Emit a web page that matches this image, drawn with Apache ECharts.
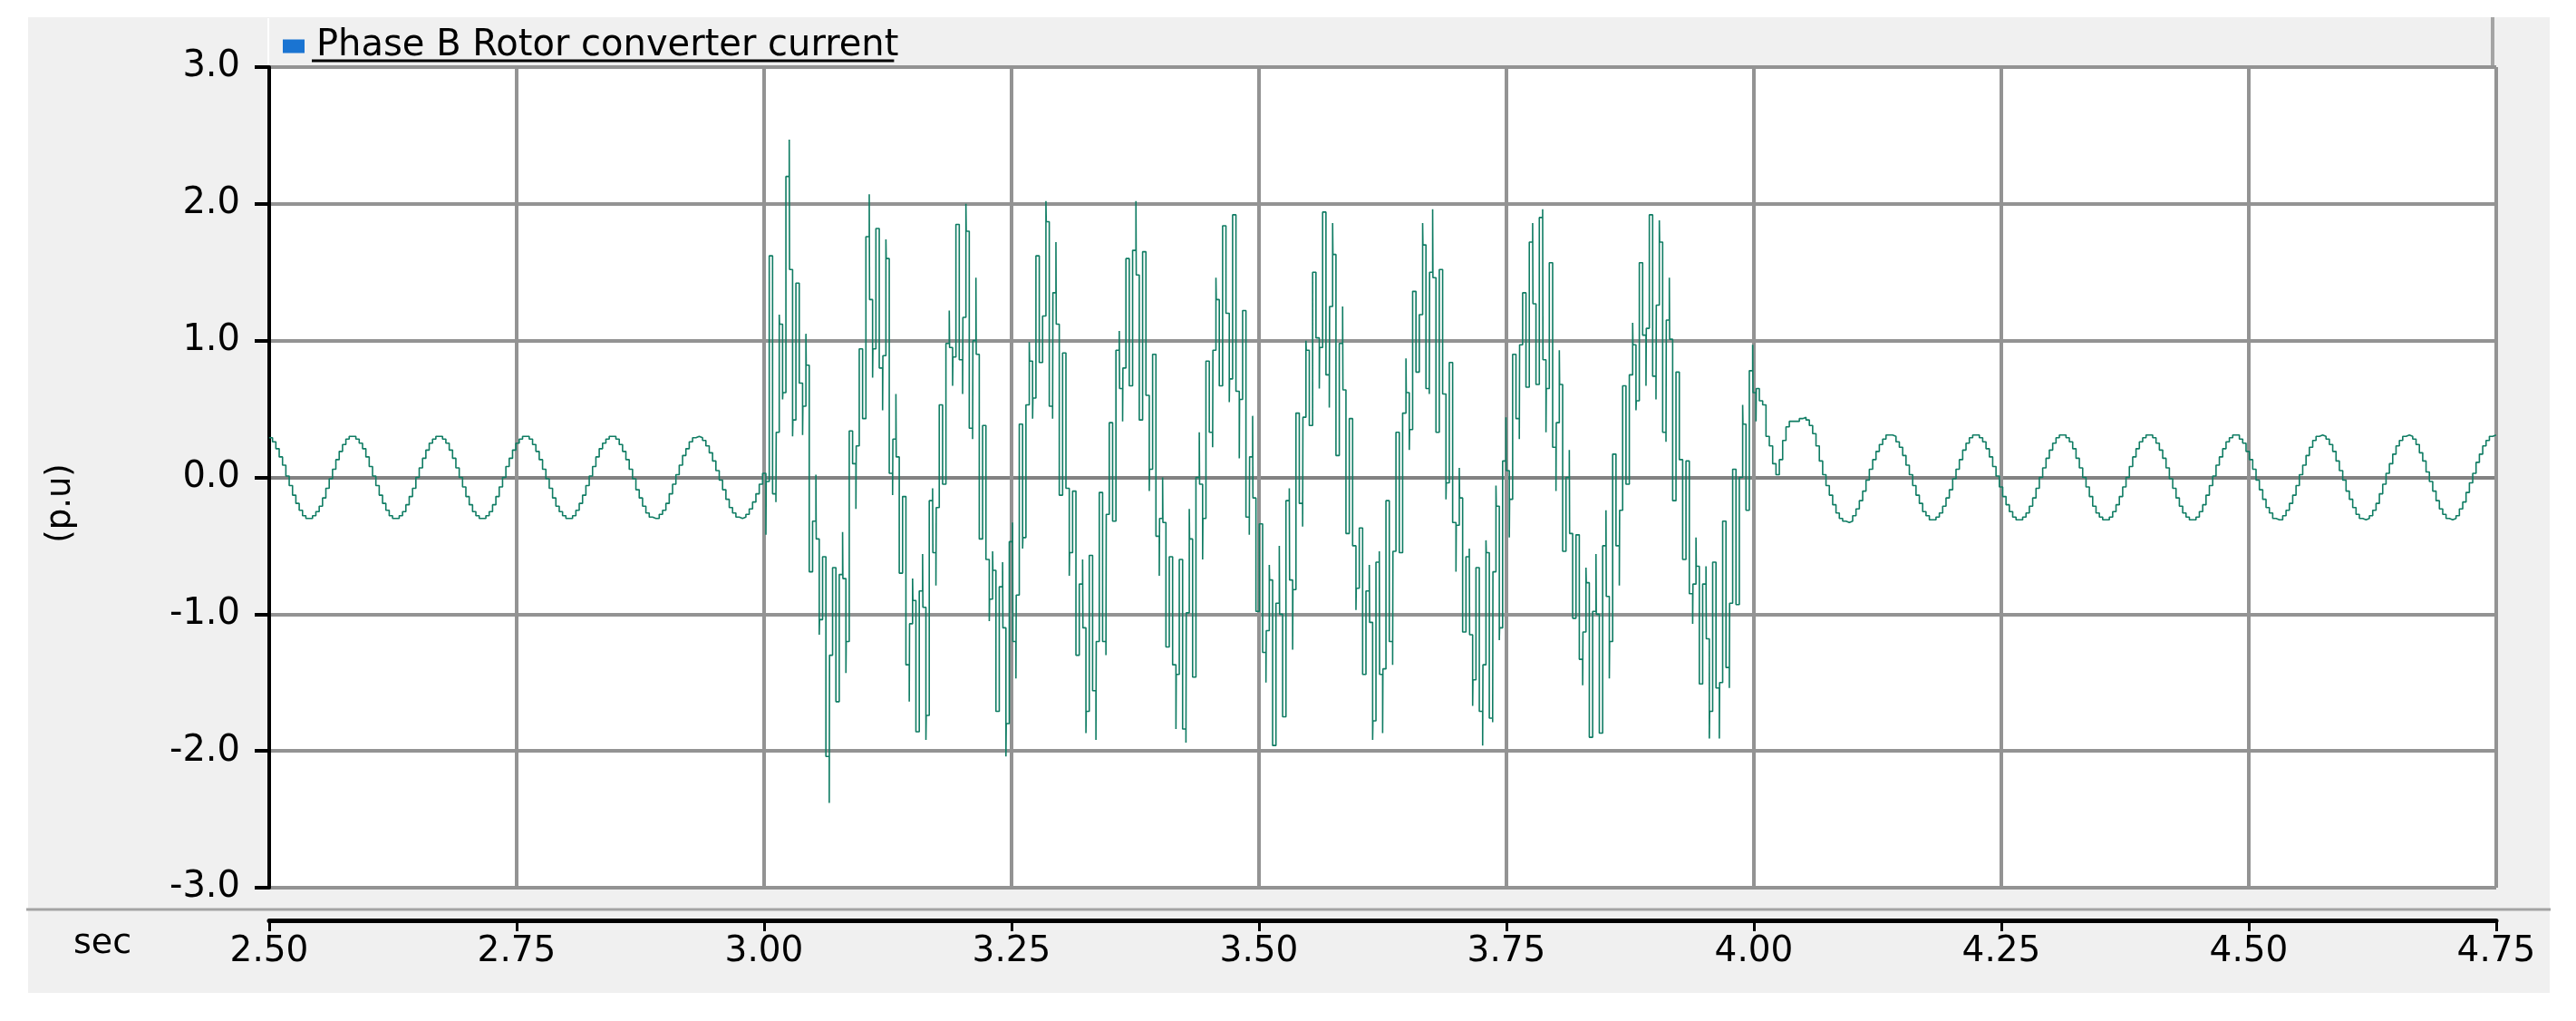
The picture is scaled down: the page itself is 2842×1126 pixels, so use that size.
<!DOCTYPE html>
<html>
<head>
<meta charset="utf-8">
<style>
  html, body { margin: 0; padding: 0; background: #fff; }
  #chart { width: 2842px; height: 1126px; }
</style>
<script src="https://cdn.jsdelivr.net/npm/echarts@6/dist/echarts.min.js"></script>
</head>
<body>
<div id="chart"></div>
<script>
// sample grid of the recorder (seconds)
const t0 = 2.5
const dt = 0.003368

const seriesName = 'Phase B Rotor converter current'

// before the fault, 2.50 .. 3.00 s
const preFault = [
  0.29, 0.26, 0.21, 0.15, 0.09, 0.01, -0.06, -0.13, -0.19, -0.24,
  -0.28, -0.30, -0.30, -0.28, -0.25, -0.21, -0.15, -0.08, -0.01, 0.06,
  0.13, 0.19, 0.24, 0.28, 0.30, 0.30, 0.28, 0.25, 0.21, 0.15,
  0.08, 0.01, -0.06, -0.13, -0.19, -0.24, -0.28, -0.30, -0.30, -0.28,
  -0.25, -0.20, -0.14, -0.08, 0.00, 0.07, 0.14, 0.20, 0.25, 0.28,
  0.30, 0.30, 0.28, 0.25, 0.20, 0.14, 0.07, 0.00, -0.07, -0.14,
  -0.20, -0.25, -0.28, -0.30, -0.30, -0.28, -0.25, -0.20, -0.14, -0.07,
  0.00, 0.08, 0.14, 0.20, 0.25, 0.28, 0.30, 0.30, 0.28, 0.24,
  0.19, 0.13, 0.06, -0.01, -0.08, -0.15, -0.21, -0.25, -0.28, -0.30,
  -0.30, -0.28, -0.24, -0.19, -0.13, -0.06, 0.01, 0.08, 0.15, 0.21,
  0.25, 0.28, 0.30, 0.30, 0.28, 0.24, 0.19, 0.13, 0.06, -0.01,
  -0.09, -0.15, -0.21, -0.26, -0.29, -0.30, -0.30, -0.27, -0.24, -0.19,
  -0.12, -0.05, 0.02, 0.09, 0.16, 0.21, 0.26, 0.29, 0.30, 0.29,
  0.27, 0.23, 0.18, 0.12, 0.05, -0.02, -0.09, -0.16, -0.22, -0.26,
  -0.29, -0.30, -0.29, -0.27, -0.23, -0.18, -0.12, -0.05, 0.03
]

// during the fault, 3.00 .. 4.04 s : held value of each sample
const faultHold = [
  -0.03, 1.62, -0.12, 0.33, 1.12, 0.62, 2.20, 1.52, 0.42, 1.42,
  0.69, 0.52, 0.82, -0.69, -0.32, -0.45, -1.04, -0.58, -2.04, -1.30,
  -0.66, -1.64, -0.71, -0.74, -1.20, 0.34, 0.10, 0.23, 0.94, 0.43,
  1.76, 1.30, 0.94, 1.82, 0.80, 0.89, 1.60, 0.03, 0.28, 0.15,
  -0.70, -0.14, -1.37, -1.07, -0.90, -1.86, -0.83, -0.95, -1.74, -0.17,
  -0.55, -0.22, 0.53, -0.05, 0.98, 0.95, 0.88, 1.85, 0.86, 1.17,
  1.80, 0.36, 1.00, 0.90, -0.45, 0.38, -0.60, -0.89, -0.68, -1.71,
  -0.80, -1.10, -1.80, -0.47, -1.20, -0.86, 0.39, -0.44, 0.53, 0.85,
  0.58, 1.62, 0.84, 1.18, 1.87, 0.52, 1.35, 1.12, -0.13, 0.91,
  -0.08, -0.55, -0.10, -1.30, -0.78, -1.10, -1.71, -0.57, -1.56, -1.20,
  -0.11, -1.20, -0.27, 0.40, -0.32, 0.93, 0.65, 0.80, 1.60, 0.67,
  1.66, 1.48, 0.42, 1.65, 0.60, 0.06, 0.90, -0.43, -0.30, -0.33,
  -1.24, -0.58, -1.37, -1.44, -0.60, -1.84, -0.99, -0.45, -1.46, 0.00,
  -0.05, -0.30, 0.85, 0.33, 0.93, 1.30, 0.67, 1.84, 1.20, 0.72,
  1.92, 0.63, 0.57, 1.22, -0.29, 0.15, -0.15, -0.98, -0.34, -1.28,
  -1.12, -0.75, -1.96, -0.92, -1.00, -1.75, -0.17, -0.75, -0.82, 0.47,
  -0.19, 0.44, 0.93, 0.38, 1.50, 1.02, 0.95, 1.94, 0.75, 1.25,
  1.63, 0.16, 0.98, 0.64, -0.41, 0.43, -0.50, -0.81, -0.37, -1.44,
  -0.83, -1.06, -1.78, -0.62, -1.44, -1.40, -0.17, -1.20, -0.54, 0.33,
  -0.55, 0.47, 0.62, 0.35, 1.36, 0.77, 1.19, 1.70, 0.65, 1.50,
  1.46, 0.33, 1.52, 0.61, -0.04, 0.84, -0.33, -0.35, -0.15, -1.13,
  -0.58, -1.15, -1.48, -0.66, -1.71, -1.37, -0.55, -1.76, -0.69, -0.21,
  -1.10, 0.12, 0.05, -0.16, 0.90, 0.43, 0.97, 1.35, 0.66, 1.72,
  1.27, 0.68, 1.90, 0.86, 0.65, 1.57, 0.22, 0.40, 0.68, -0.54,
  0.00, -0.41, -1.03, -0.42, -1.33, -1.13, -0.77, -1.90, -0.98, -1.00,
  -1.87, -0.50, -0.87, -1.20, 0.17, -0.50, -0.24, 0.67, -0.05, 0.75,
  0.97, 0.56, 1.57, 1.04, 1.09, 1.92, 0.74, 1.26, 1.72, 0.33,
  1.15, 1.01, -0.17, 0.77, 0.13, -0.60, 0.12, -0.85, -0.78, -0.65,
  -1.51, -0.78, -1.18, -1.71, -0.62, -1.54, -1.50, -0.32, -1.39, -0.92,
  0.06, -0.93, 0.00, 0.39, -0.24, 0.78, 0.62, 0.65, 0.56, 0.53,
  0.30, 0.23, 0.10, 0.02, 0.13, 0.27, 0.37, 0.41, 0.41
]

// short spike at the start of a sample (null = none)
const n = null
const faultTip = [
  -0.42, n, n, -0.18, 1.19, 0.57, n, 2.47, 0.30, n,
  n, 0.31, 1.05, n, n, 0.02, -1.15, n, n, -2.38,
  n, n, n, -0.40, -1.43, n, n, -0.23, n, n,
  n, 2.07, 0.73, n, n, 0.49, 1.74, n, -0.13, 0.61,
  n, n, n, -1.64, -0.74, n, n, -0.56, -1.92, n,
  -0.08, -0.79, n, n, n, 1.22, 0.67, n, n, 0.61,
  2.00, n, 0.28, 1.46, n, n, n, -1.05, -0.54, n,
  n, -0.62, -2.04, n, -0.33, -1.47, n, -0.52, n, 0.99,
  0.43, n, n, n, 2.02, n, 0.43, 1.72, n, n,
  n, -0.72, n, n, n, -0.60, -1.87, n, n, -1.92,
  n, n, -1.30, n, n, n, 1.07, 0.41, n, n,
  n, 2.02, n, n, n, -0.10, n, n, -0.72, 0.00,
  n, n, n, -1.84, n, n, -1.94, -0.23, n, n,
  0.33, -0.60, n, n, 0.22, 1.46, n, n, n, 0.55,
  n, n, 0.14, n, n, -0.42, 0.45, n, n, n,
  -1.50, -0.64, n, n, -0.50, n, n, -0.08, -1.26, n,
  n, -0.36, 1.00, n, n, n, 0.65, n, n, 0.51,
  1.86, n, n, 1.25, n, n, n, -0.97, n, n,
  n, -0.64, -1.92, n, -0.54, -1.87, n, n, -1.37, n,
  n, n, 0.87, 0.20, n, n, n, 1.86, n, 0.61,
  1.96, n, n, n, -0.16, n, n, -0.69, 0.07, n,
  n, -0.52, -1.67, n, n, -1.96, -0.46, n, -1.79, -0.06,
  -1.19, n, 0.44, -0.44, n, n, 0.28, n, n, n,
  1.86, n, n, 1.96, 0.33, n, n, -0.10, 0.93, n,
  n, 0.20, n, n, n, -1.52, -0.66, n, n, -0.56,
  n, n, -0.24, -1.47, n, n, -0.79, n, n, n,
  1.13, 0.49, n, n, 0.67, n, n, 0.57, 1.88, n,
  0.26, 1.46, n, n, n, n, n, n, -1.07, -0.44,
  n, n, -0.65, -1.91, n, n, -1.91, n, n, -1.54,
  n, n, n, 0.53, n, n, 0.97, 0.41, n, n,
  n, n, n, n, n, n, n, n, n
]

// after the fault is cleared, 4.04 .. 4.75 s
const postFault = [
  0.41, 0.43, 0.44, 0.42, 0.38, 0.32, 0.23, 0.12, 0.02, -0.06, -0.13,
  -0.20, -0.26, -0.30, -0.32, -0.33, -0.32, -0.28, -0.23, -0.17, -0.10,
  -0.02, 0.06, 0.13, 0.19, 0.24, 0.28, 0.31, 0.31, 0.30, 0.26,
  0.22, 0.16, 0.09, 0.02, -0.06, -0.13, -0.19, -0.25, -0.28, -0.31,
  -0.31, -0.29, -0.26, -0.21, -0.15, -0.09, -0.01, 0.06, 0.13, 0.20,
  0.25, 0.29, 0.31, 0.31, 0.29, 0.26, 0.21, 0.15, 0.08, 0.01,
  -0.07, -0.14, -0.20, -0.25, -0.29, -0.31, -0.31, -0.29, -0.26, -0.21,
  -0.15, -0.08, 0.00, 0.07, 0.14, 0.20, 0.25, 0.29, 0.31, 0.31,
  0.29, 0.26, 0.21, 0.14, 0.07, 0.00, -0.07, -0.14, -0.21, -0.26,
  -0.29, -0.31, -0.31, -0.29, -0.25, -0.20, -0.14, -0.07, 0.00, 0.08,
  0.15, 0.21, 0.26, 0.29, 0.31, 0.31, 0.29, 0.25, 0.20, 0.14,
  0.07, -0.01, -0.08, -0.15, -0.21, -0.26, -0.29, -0.31, -0.31, -0.29,
  -0.25, -0.20, -0.13, -0.06, 0.01, 0.09, 0.15, 0.21, 0.26, 0.29,
  0.31, 0.31, 0.28, 0.25, 0.19, 0.13, 0.06, -0.02, -0.09, -0.16,
  -0.22, -0.26, -0.30, -0.31, -0.31, -0.28, -0.24, -0.19, -0.13, -0.06,
  0.02, 0.09, 0.16, 0.22, 0.27, 0.30, 0.31, 0.30, 0.28, 0.24,
  0.19, 0.12, 0.05, -0.02, -0.10, -0.16, -0.22, -0.27, -0.30, -0.31,
  -0.30, -0.28, -0.24, -0.19, -0.12, -0.05, 0.03, 0.10, 0.17, 0.23,
  0.27, 0.30, 0.31, 0.30, 0.28, 0.24, 0.18, 0.12, 0.04, -0.03,
  -0.10, -0.17, -0.23, -0.27, -0.30, -0.31, -0.30, -0.28, -0.23, -0.18,
  -0.11, -0.04, 0.03, 0.11, 0.17, 0.23, 0.27, 0.30, 0.31, 0.31
]

// build [time, value] pairs on the sample grid
const points = []
preFault.forEach((v, i) => points.push([t0 + i * dt, v]))
faultHold.forEach((v, j) => {
  const t = t0 + (preFault.length + j) * dt
  if (faultTip[j] !== null) {
    points.push([t, faultTip[j]])
    points.push([t + 0.0003, v])
  } else {
    points.push([t, v])
  }
})
postFault.forEach((v, i) => points.push([t0 + (preFault.length + faultHold.length + i) * dt, v]))

const FONT = 'DejaVu Sans'
const gridGray = '#939393'
const LEGEND_SIZE = 40

// width of the legend text, for the underline
const ctx = document.createElement('canvas').getContext('2d')
ctx.font = LEGEND_SIZE + 'px "' + FONT + '"'
const legendTextW = ctx.measureText(seriesName).width
const legendTextX = 344

const chart = echarts.init(document.getElementById('chart'))

chart.setOption({
  animation: false,
  backgroundColor: '#fff',
  legend: {
    left: 307,
    top: 26,
    icon: 'rect',
    itemWidth: 24,
    itemHeight: 15,
    selectedMode: false,
    textStyle: {
      fontFamily: FONT,
      fontSize: LEGEND_SIZE,
      color: '#000',
      padding: [0, 0, 0, 8]
    },
    data: [{ name: seriesName, itemStyle: { color: '#1a74d2' } }]
  },
  grid: {
    left: 297,
    right: 88,
    top: 74,
    bottom: 147,
    show: true,
    backgroundColor: '#fff',
    borderWidth: 0
  },
  xAxis: {
    type: 'value',
    min: 2.5,
    max: 4.75,
    interval: 0.25,
    offset: 36,
    axisLine: { show: true, onZero: false, lineStyle: { color: '#000', width: 5 } },
    axisTick: { show: true, length: 12, lineStyle: { color: '#000', width: 3 } },
    axisLabel: {
      fontFamily: FONT,
      fontSize: 39,
      color: '#000',
      margin: 15,
      formatter: v => v.toFixed(2)
    },
    splitLine: {
      show: true,
      lineStyle: {
        color: ['rgba(0,0,0,0)', gridGray, gridGray, gridGray, gridGray, gridGray, gridGray, gridGray, gridGray, gridGray],
        width: 4
      }
    }
  },
  yAxis: {
    type: 'value',
    min: -3,
    max: 3,
    interval: 1,
    axisLine: { show: true, lineStyle: { color: '#000', width: 4 } },
    axisTick: { show: true, length: 16, lineStyle: { color: '#000', width: 4 } },
    axisLabel: {
      fontFamily: FONT,
      fontSize: 40,
      color: '#000',
      margin: 32,
      formatter: v => v.toFixed(1)
    },
    splitLine: {
      show: true,
      lineStyle: {
        // the zero line is a little darker
        color: [gridGray, gridGray, gridGray, '#828282', gridGray, gridGray, gridGray],
        width: 4
      }
    }
  },
  graphic: [
    {
      type: 'rect',
      z: -100,
      silent: true,
      shape: { x: 31, y: 19, width: 2782, height: 1076 },
      style: { fill: '#f0f0f0' }
    },
    {
      type: 'line',
      silent: true,
      shape: { x1: 296, y1: 20, x2: 296, y2: 72 },
      style: { stroke: '#fff', lineWidth: 2 }
    },
    {
      type: 'line',
      silent: true,
      shape: { x1: 2750, y1: 19, x2: 2750, y2: 72 },
      style: { stroke: '#a5a5a5', lineWidth: 4 }
    },
    {
      type: 'line',
      silent: true,
      shape: { x1: 29, y1: 1003, x2: 2814, y2: 1003 },
      style: { stroke: '#a3a3a3', lineWidth: 3 }
    },
    {
      type: 'line',
      silent: true,
      shape: { x1: legendTextX, y1: 67, x2: legendTextX + legendTextW, y2: 67 },
      style: { stroke: '#000', lineWidth: 3 }
    },
    {
      type: 'text',
      silent: true,
      x: 81,
      y: 1041,
      style: {
        text: 'sec',
        fontFamily: FONT,
        fontSize: 38,
        fill: '#000',
        textAlign: 'left',
        textVerticalAlign: 'middle'
      }
    },
    {
      type: 'text',
      silent: true,
      x: 67,
      y: 555,
      rotation: Math.PI / 2,
      style: {
        text: '(p.u)',
        fontFamily: FONT,
        fontSize: 37,
        fill: '#000',
        textAlign: 'center',
        textVerticalAlign: 'middle'
      }
    }
  ],
  series: [{
    name: seriesName,
    type: 'line',
    step: 'end',
    showSymbol: false,
    symbol: 'none',
    clip: true,
    lineStyle: { color: '#0f7c63', width: 1.6 },
    itemStyle: { color: '#0f7c63' },
    data: points
  }]
})
</script>
</body>
</html>
